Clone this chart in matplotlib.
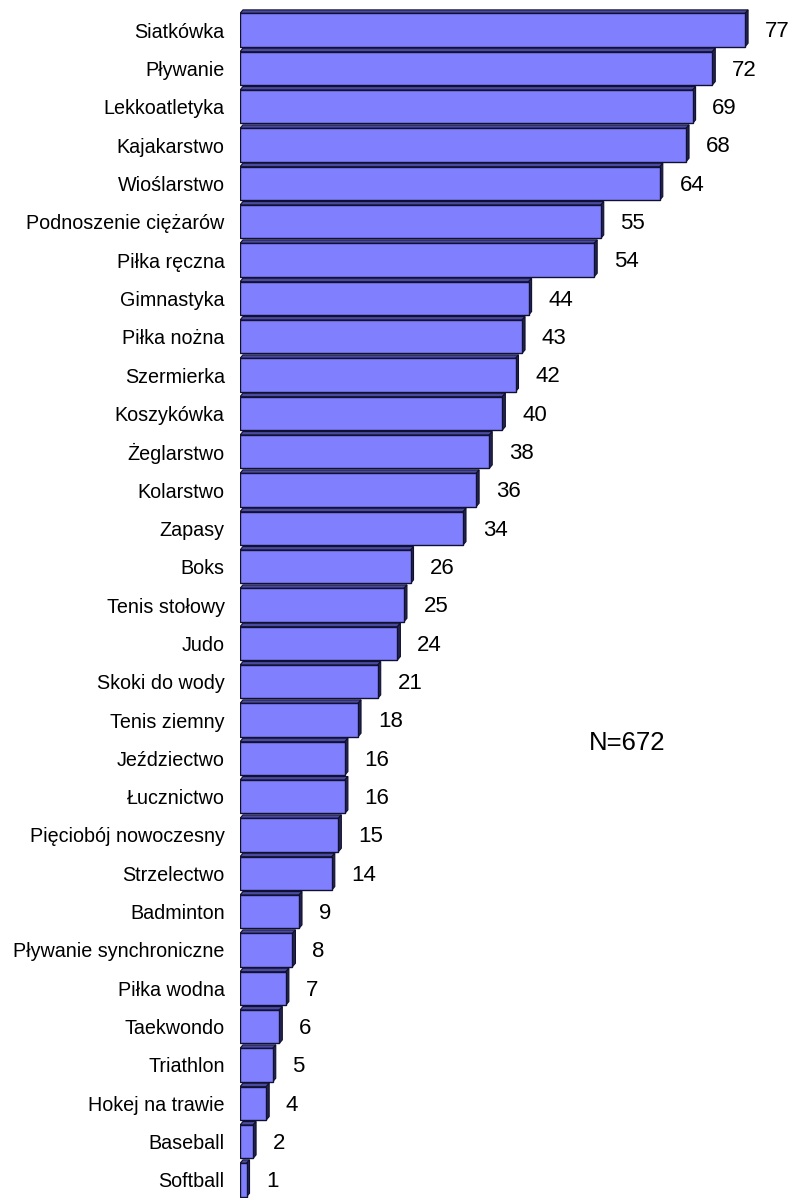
import matplotlib.pyplot as plt
from matplotlib.patches import Polygon

sports = ['Siatkówka', 'Pływanie', 'Lekkoatletyka', 'Kajakarstwo', 'Wioślarstwo',
          'Podnoszenie ciężarów', 'Piłka ręczna', 'Gimnastyka', 'Piłka nożna',
          'Szermierka', 'Koszykówka', 'Żeglarstwo', 'Kolarstwo', 'Zapasy', 'Boks',
          'Tenis stołowy', 'Judo', 'Skoki do wody', 'Tenis ziemny', 'Jeździectwo',
          'Łucznictwo', 'Pięciobój nowoczesny', 'Strzelectwo', 'Badminton',
          'Pływanie synchroniczne', 'Piłka wodna', 'Taekwondo', 'Triathlon',
          'Hokej na trawie', 'Baseball', 'Softball']
counts = [77, 72, 69, 68, 64, 55, 54, 44, 43, 42, 40, 38, 36, 34, 26,
          25, 24, 21, 18, 16, 16, 15, 14, 9, 8, 7, 6, 5, 4, 2, 1]
note = 'N=672'

plt.rcParams['font.family'] = ['Liberation Sans', 'DejaVu Sans']

fig = plt.figure(figsize=(7.95, 11.98), dpi=100)
ax = fig.add_axes([240 / 795, 0, 1 - 240 / 795, 1])

pos = list(range(len(sports)))
h = 0.87
dx, dy = 0.45, 0.09  # depth of the fake 3d faces

ax.barh(pos, counts, height=h, color='#8080ff', edgecolor='#101030', linewidth=1.0, zorder=3)
for y, v in zip(pos, counts):
    top = y - h / 2
    ax.add_patch(Polygon([(0, top), (dx, top - dy), (v + dx, top - dy), (v, top)],
                         closed=True, facecolor='#4a4aa0', edgecolor='#101030', lw=0.8, zorder=2))
    ax.add_patch(Polygon([(v, top), (v + dx, top - dy), (v + dx, y + h / 2 - dy), (v, y + h / 2)],
                         closed=True, facecolor='#25254f', edgecolor='#101030', lw=0.8, zorder=2))
    ax.text(v + 3.0, y + 0.05, str(v), va='center', ha='left', fontsize=16)

ax.set_yticks(pos)
ax.set_yticklabels(sports, fontsize=14.2)
ax.tick_params(axis='y', length=0, pad=11)
ax.set_xticks([])
ax.set_xlim(0, 555 / 6.56)
ax.set_ylim(30 + 18 / 38.33, -30 / 38.33)
for s in ax.spines.values():
    s.set_visible(False)

ax.text(59.0, 18.6, note, fontsize=18.5, va='center', ha='center')

fig.savefig('out.png', dpi=100)
